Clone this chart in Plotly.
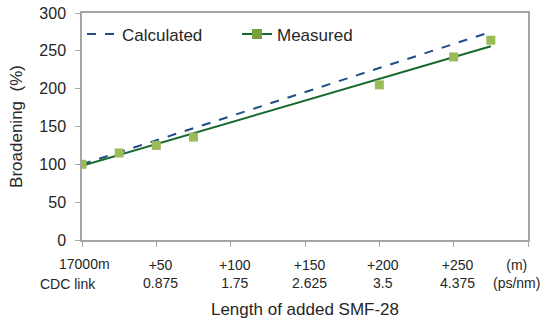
import plotly.graph_objects as go

# ---- data ----
meas_x = [0, 25, 50, 75, 200, 250, 275]
meas_y = [100, 115, 125, 136, 205, 242, 264]
calc_x = [0, 275]
calc_y = [100, 275]
fit_x = [0, 275]
fit_y = [98, 256]

tick_vals = [50, 100, 150, 200, 250]
tick_len_m = ["+50", "+100", "+150", "+200", "+250"]
tick_cdc = ["0.875", "1.75", "2.625", "3.5", "4.375"]

FONT = "Liberation Sans, Arial, sans-serif"
TXT = "#262626"
AX = "#a6a6a6"

fig = go.Figure()
fig.add_trace(go.Scatter(x=calc_x, y=calc_y, mode="lines", name="Calculated",
                         line=dict(color="#1f4e89", width=2, dash="dash")))
fig.add_trace(go.Scatter(x=fit_x, y=fit_y, mode="lines", showlegend=False,
                         line=dict(color="#16692c", width=2)))
fig.add_trace(go.Scatter(x=meas_x, y=meas_y, mode="markers", showlegend=False,
                         marker=dict(symbol="square", size=9, color="#9bbb59")))
fig.add_trace(go.Scatter(x=[None], y=[None], mode="lines+markers", name="Measured",
                         line=dict(color="#16692c", width=2),
                         marker=dict(symbol="square", size=10, color="#77a03c")))

lab_font = dict(size=14, color=TXT, family=FONT)
ann = []
for v, a, b in zip(tick_vals, tick_len_m, tick_cdc):
    ann.append(dict(x=v, xref="x", y=0, yref="paper", yshift=-34, xshift=4,
                    text=a + "<br>" + b, showarrow=False, yanchor="middle",
                    font=lab_font))
ann.append(dict(x=0, xref="x", y=0, yref="paper", yshift=-24, xshift=2,
                text="17000m", showarrow=False, yanchor="middle", font=lab_font))
ann.append(dict(x=0, xref="x", y=0, yref="paper", yshift=-44, xshift=-14,
                text="CDC link", showarrow=False, yanchor="middle", font=lab_font))
ann.append(dict(x=300, xref="x", y=0, yref="paper", yshift=-34, xshift=-12,
                text="(m)<br>(ps/nm)", showarrow=False, yanchor="middle",
                font=lab_font))

fig.update_layout(
    width=549, height=320,
    margin=dict(l=82, r=21, t=13, b=80),
    paper_bgcolor="white", plot_bgcolor="white",
    font=dict(family=FONT, color=TXT, size=15),
    showlegend=True,
    legend=dict(orientation="h", x=0.0, y=0.985, xanchor="left", yanchor="top",
                bgcolor="rgba(0,0,0,0)", font=dict(size=17, color=TXT),
                entrywidth=110, entrywidthmode="pixels"),
    annotations=ann,
)
fig.update_xaxes(range=[0, 300], tickvals=[0, 50, 100, 150, 200, 250, 300],
                 showticklabels=False, ticks="outside", ticklen=5, tickcolor=AX,
                 showline=True, linecolor=AX, linewidth=1.5, mirror=True,
                 showgrid=False, zeroline=False, automargin=False,
                 title=dict(text="Length of added SMF-28", standoff=57,
                            font=dict(size=17, color=TXT)))
fig.update_yaxes(range=[0, 300], tickvals=[0, 50, 100, 150, 200, 250, 300],
                 ticks="outside", ticklen=5, tickcolor=AX,
                 tickfont=dict(size=16, color=TXT), ticklabelstandoff=6,
                 ticklabeloverflow="allow",
                 showline=True, linecolor=AX, linewidth=1.5, mirror=True,
                 showgrid=False, zeroline=False, automargin=False,
                 title=dict(text="Broadening  (%)", standoff=12,
                            font=dict(size=17, color=TXT)))

fig.write_html("out.html", config={"displayModeBar": False},
               post_script="document.body.style.margin='0';")
